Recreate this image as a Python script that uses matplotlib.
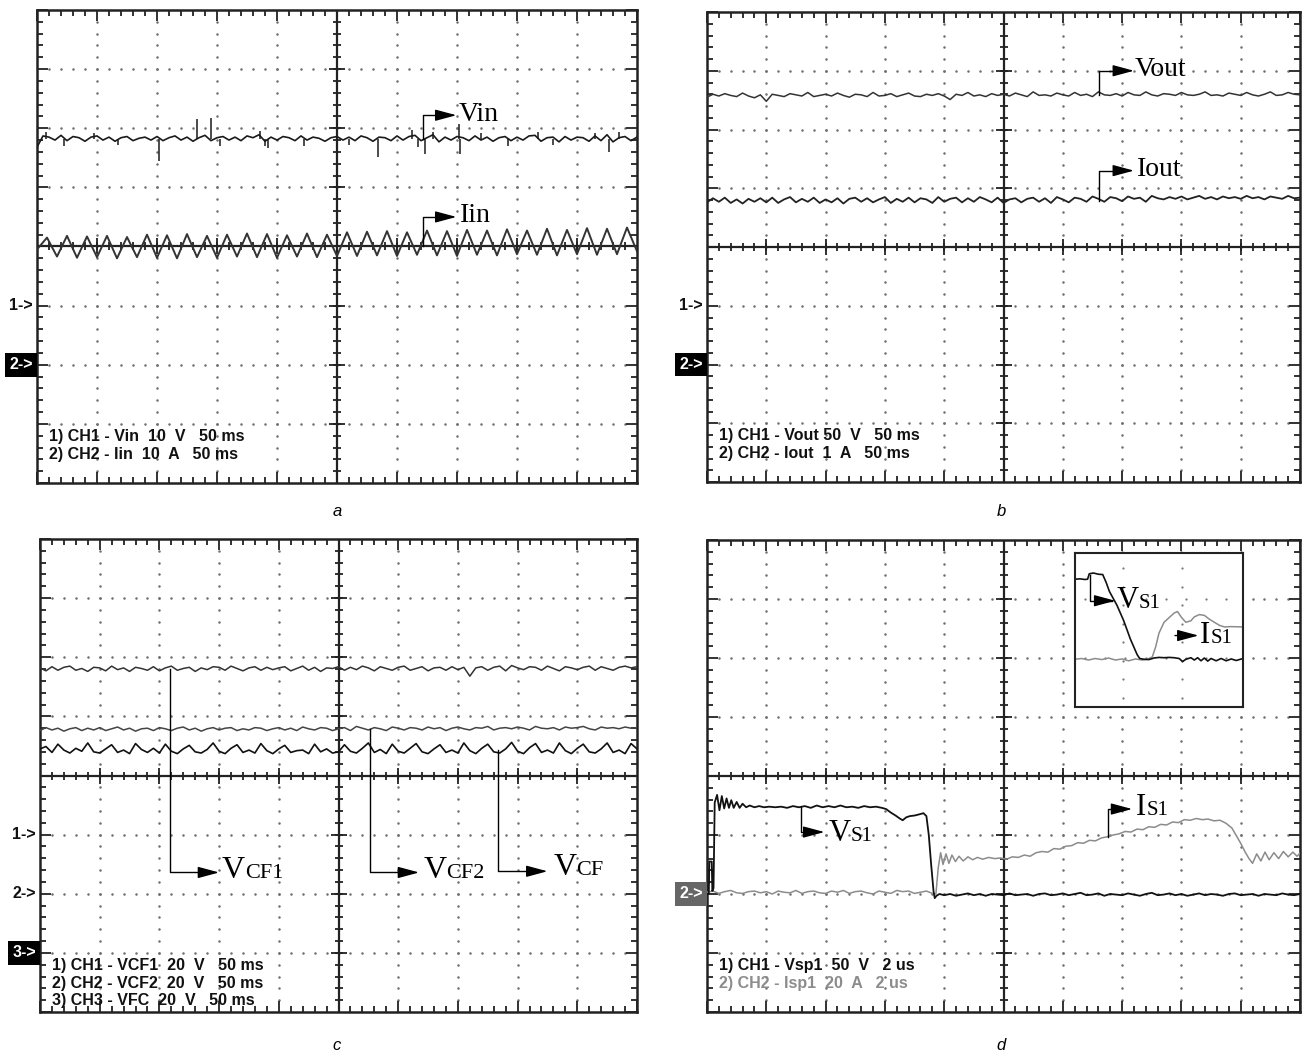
import numpy as np
import matplotlib.pyplot as plt
from matplotlib.offsetbox import TextArea, HPacker, AnnotationBbox

plt.rcParams['font.family'] = ['Liberation Sans', 'DejaVu Sans']

# ---- panel a : input voltage / current (divisions) ----
vin_level = 5.82
vin_ripple = [-14, 5, 3, -2, 6, -3, 4, 2, -4, 3,
              5, -2, 3, -4, 2, 4, -3, 1, 3, -2,
              4, -3, 2, 5, -2, 3, -4, 2, 6, -3,
              2, 4, -2, 3, -3, 5, 2, 7, -4, 3,
              -2, 4, 2, -3, 5, -2, 3, 1, -4, 2,
              4, -2, 3, -3, 5, 2, -4, 3, 2, -3,
              5, -2, 4, 6, -3, 2, 7, -5, 3, -2,
              4, 2, -3, 5, -2, 3, -4, 2, 4, -3,
              3, -2, 5, 6, -4, 2, 3, -5, 4, -2,
              3, 2, -4, 5, -3, 7, -5, 2, 4, -3, 3]
vin_spike_x = [0.15, 0.45, 0.95, 1.35, 2.03, 2.67, 2.90, 3.05, 3.72, 3.80, 3.85, 4.45, 5.20,
               5.68, 6.25, 6.35, 6.47, 6.60, 7.03, 7.05, 7.40, 7.85, 8.35, 8.60, 9.30, 9.53, 9.70]
vin_spike_dy = [0.12, -0.12, 0.10, -0.10, -0.37, 0.33, 0.35, -0.12, 0.14, -0.12, -0.15, -0.12, -0.10,
                -0.30, 0.15, -0.14, -0.25, 0.12, 0.25, -0.25, 0.10, -0.12, 0.12, -0.10, 0.10, -0.22, 0.12]

iin_level = 4.0
iin_swing = [-5, 15, -17, 18, -19, 17, -18, 18, -20, 16, -18, 20, -19, 19, -20, 21, -18, 18, -19, 20,
             -17, 22, -18, 21, -19, 19, -17, 22, -18, 20, -16, 24, -16, 25, -15, 26, -16, 24, -14, 27,
             -15, 26, -16, 28, -14, 27, -15, 29, -13, 27, -14, 30, -15, 28, -13, 31, -14, 30, -13, 32, -8]

# ---- panel b : output voltage / current ----
vout_level = 6.58
vout_ripple = [-3, 2, -1, 3, 0, -2, 4, -1, -4, 1,
               -10, 2, 0, -2, 3, 1, -1, 5, -2, 0,
               2, -1, 4, 0, -3, 2, 1, -2, 5, -1,
               0, 3, -2, 1, 4, -1, -2, 2, 0, 3,
               -1, -7, 2, 0, 5, -1, 1, -2, 3, 0,
               2, -1, 4, 1, -2, 6, 0, 1, -1, 4,
               1, -1, 5, 0, 2, -2, 6, 1, 0, 3,
               -1, 5, 1, 0, 6, 1, -1, 3, 2, 0,
               5, 1, 0, 2, 6, 0, 1, -1, 4, 2,
               0, 5, 1, -1, 2, 6, 0, 1, 5, 2, 1]
iout_level = 4.79
iout_ripple = [-3, 4, -2, 5, -4, 2, -5, 3, -2, 4,
               -3, 5, -4, 2, 6, -3, 3, -2, 5, -4,
               2, -3, 4, -5, 3, 5, -2, 4, -3, 2,
               6, -4, 3, -2, 5, -3, 4, 2, -4, 6,
               -2, 3, 5, -3, 4, -2, 6, 2, -3, 5,
               -4, 2, 4, -3, 3, 5, -2, 4, -4, 6,
               2, -3, 5, 3, -2, 7, 3, -2, 6, 4,
               -1, 7, 3, 5, -2, 8, 4, 2, 6, 3,
               7, 2, 5, 8, 3, 6, 2, 7, 4, 6,
               3, 8, 4, 6, 2, 7, 5, 3, 8, 4, 5]

# ---- panel c : flying capacitor voltages ----
vcf1_level = 5.80
vcf1_ripple = [2, -3, 4, -2, 3, 5, -2, 1, -4, 3,
               2, -3, 5, -1, 2, -4, 3, 1, -2, 4,
               -3, 2, 5, -2, 1, 3, -4, 2, -1, 4,
               3, -2, 5, 1, -3, 2, 4, -2, 3, -1,
               2, 4, -3, 1, 5, -2, 3, -4, 2, 1,
               4, -2, 3, -1, 5, 2, -3, 4, 1, -2,
               3, 5, -2, 1, 4, -3, 2, 3, -2, 4,
               -1, 3, -12, 2, 4, -2, 3, 5, -3, 6,
               2, -1, 4, 3, -2, 5, 1, -3, 4, 2,
               -1, 3, 5, -2, 4, 1, -2, 3, 5, 2, 4]
vcf2_level = 4.78
vcf2_ripple = [-2, 3, -1, 2, -3, 1, 3, -2, 2, -1,
               3, -2, 1, 4, -1, 2, -3, 1, 2, -2,
               3, 1, -2, 2, 4, -1, 2, -3, 1, 3,
               -1, 2, 3, -2, 1, -1, 3, 2, -2, 1,
               3, -1, 2, -2, 4, 1, -1, 3, 2, -2,
               1, 3, -2, 5, 2, -1, 3, 1, -2, 4,
               2, -1, 3, 2, -1, 4, 1, 3, -2, 2,
               4, 1, -1, 3, 2, 5, -1, 2, 3, 1,
               4, 2, -1, 5, 2, 1, 3, -1, 4, 2,
               3, 5, 1, -1, 4, 2, 3, 1, 4, 2, 3]
vcf_level = 4.43
vcf_ripple = [2, 6, -4, 10, 0, -5, 3, -2, 12, -3,
              -5, 2, 9, -4, 0, -6, 11, 1, -4, 3,
              -5, 10, -2, -6, 2, 8, -3, -5, 1, 12,
              -2, -6, 3, 9, -4, 0, -5, 11, -1, -6,
              2, 8, -4, -1, 0, -6, 10, -3, 2, -5,
              -3, 9, -2, -5, 3, 12, -4, 1, -6, 10,
              -2, -5, 3, 11, -3, -6, 2, 9, -4, 0,
              -5, 12, -1, -6, 3, 10, -3, -5, 2, 13,
              -2, -6, 4, 11, -4, 0, -5, 12, -1, -6,
              3, 10, -3, -5, 2, 12, -4, 0, -6, 11, 2]

# ---- panel d : switch S1 voltage / current (2 us/div) ----
vs1_pts = [(0.00, 2.00), (0.03, 2.00), (0.04, 2.55), (0.08, 2.55), (0.09, 2.05), (0.11, 2.10),
           (0.13, 3.55), (0.17, 3.68), (0.21, 3.42), (0.25, 3.66), (0.29, 3.45), (0.33, 3.62),
           (0.37, 3.46), (0.41, 3.59), (0.45, 3.46), (0.50, 3.56), (0.55, 3.46), (0.60, 3.53),
           (0.66, 3.47), (0.72, 3.50), (0.80, 3.47), (0.88, 3.49), (0.96, 3.47), (1.05, 3.48),
           (1.15, 3.47), (1.25, 3.48), (1.35, 3.46), (1.45, 3.49), (1.55, 3.47), (1.65, 3.49),
           (1.75, 3.46), (1.85, 3.50), (1.95, 3.47), (2.05, 3.49), (2.15, 3.47), (2.25, 3.50),
           (2.35, 3.47), (2.45, 3.48), (2.55, 3.46), (2.65, 3.49), (2.75, 3.47), (2.85, 3.48),
           (2.95, 3.46), (3.02, 3.44), (3.10, 3.38), (3.18, 3.33), (3.25, 3.28), (3.30, 3.25),
           (3.36, 3.30), (3.42, 3.32), (3.50, 3.33), (3.58, 3.35), (3.65, 3.37), (3.70, 3.32),
           (3.74, 3.00), (3.78, 2.50), (3.82, 2.05), (3.84, 1.93), (3.87, 1.97), (3.92, 2.00)]
vs1_tail_level = 1.99
vs1_tail = [-1, 1, -2, 0, 2, -1, 1, -2, 1, 0,
            -1, 2, -1, 0, 1, -2, 1, 2, -1, 0,
            2, -1, 1, 3, -1, 0, 2, -2, 1, 0,
            -1, 2, 0, -2, 1, 3, -1, 0, 2, -1,
            1, -2, 0, 2, -1, 1, 0, -2, 1, 2,
            -1, 0, 1, -2, 1, 0, -1, 2, 0, -1, 1]
is1_head_level = 2.03
is1_head = [0, 2, -2, 1, 3, -1, -2, 1, 2, -1,
            1, -3, 2, 0, -1, 3, -2, 1, 2, -1,
            -2, 2, 0, 3, -2, 1, 2, -1, -3, 2,
            0, -2, 3, 1, 2, -2, 0, 2, -2]
is1_pts = [(3.86, 2.00), (3.90, 2.45), (3.94, 2.70), (3.98, 2.50), (4.03, 2.68), (4.08, 2.52),
           (4.13, 2.66), (4.19, 2.55), (4.25, 2.64), (4.32, 2.56), (4.40, 2.63), (4.48, 2.58),
           (4.56, 2.62), (4.65, 2.59), (4.75, 2.62), (4.85, 2.60), (4.95, 2.61), (5.05, 2.59),
           (5.15, 2.63), (5.25, 2.62), (5.35, 2.66), (5.45, 2.64), (5.55, 2.70), (5.65, 2.72),
           (5.75, 2.71), (5.85, 2.77), (5.95, 2.76), (6.05, 2.81), (6.15, 2.82), (6.25, 2.87),
           (6.35, 2.86), (6.45, 2.91), (6.55, 2.90), (6.65, 2.95), (6.75, 2.97), (6.85, 3.00),
           (6.95, 3.02), (7.05, 3.06), (7.15, 3.05), (7.25, 3.10), (7.35, 3.09), (7.45, 3.14),
           (7.55, 3.13), (7.65, 3.18), (7.75, 3.17), (7.85, 3.22), (7.95, 3.21), (8.05, 3.26),
           (8.15, 3.25), (8.25, 3.28), (8.35, 3.26), (8.45, 3.27), (8.55, 3.24), (8.65, 3.25),
           (8.75, 3.20), (8.85, 3.12), (8.92, 3.00), (9.00, 2.86), (9.07, 2.72), (9.14, 2.60),
           (9.20, 2.52), (9.27, 2.68), (9.34, 2.56), (9.41, 2.71), (9.48, 2.58), (9.56, 2.70),
           (9.64, 2.60), (9.72, 2.72), (9.80, 2.63), (9.88, 2.71), (9.95, 2.64), (10.0, 2.69)]

# zoomed turn-off detail (inset, own 0..10 scale)
inset_vs = [(0.0, 8.3), (0.3, 8.32), (0.6, 8.28), (0.75, 8.3), (0.85, 8.65), (1.1, 8.7), (1.4, 8.62),
            (1.65, 8.6), (1.85, 8.1), (2.05, 7.5), (2.3, 7.0), (2.5, 6.6), (2.7, 6.1), (2.9, 5.6),
            (3.1, 5.0), (3.3, 4.4), (3.5, 3.9), (3.7, 3.4), (3.85, 3.15), (4.1, 3.1), (4.4, 3.08),
            (4.7, 3.18), (5.0, 3.22), (5.3, 3.2), (5.6, 3.22), (5.9, 3.2), (6.2, 3.15), (6.4, 2.95),
            (6.6, 3.1), (6.9, 3.2), (7.1, 3.05), (7.3, 3.2), (7.5, 3.0), (7.7, 3.18), (7.9, 2.98),
            (8.1, 3.15), (8.4, 3.0), (8.7, 3.15), (9.0, 3.0), (9.3, 3.12), (9.6, 3.02), (10.0, 3.15)]
inset_is = [(0.0, 3.1), (0.4, 3.15), (0.8, 3.05), (1.2, 3.15), (1.6, 3.08), (2.0, 3.18), (2.4, 3.05),
            (2.8, 3.12), (3.2, 3.0), (3.6, 3.12), (4.0, 3.05), (4.3, 3.1), (4.6, 3.25), (4.8, 3.9),
            (5.0, 4.8), (5.3, 5.5), (5.6, 5.8), (5.9, 6.1), (6.1, 6.2), (6.35, 5.8), (6.6, 5.5),
            (6.9, 5.6), (7.1, 5.85), (7.4, 6.0), (7.7, 5.95), (8.0, 5.7), (8.3, 5.5), (8.6, 5.3),
            (8.9, 5.2), (9.3, 5.22), (10.0, 5.2)]

W, H = 1306, 1055
fig = plt.figure(figsize=(W / 100, H / 100), dpi=100)
GRID = '#222222'


def px_axes(x0, y0, x1, y1):
    return fig.add_axes([x0 / W, 1 - y1 / H, (x1 - x0) / W, (y1 - y0) / H])


def scope_grid(ax):
    ax.set_xlim(0, 10)
    ax.set_ylim(0, 8)
    ax.set_xticks(range(11))
    ax.set_yticks(range(9))
    ax.set_xticks(np.arange(0, 10.01, 0.2), minor=True)
    ax.set_yticks(np.arange(0, 8.01, 0.2), minor=True)
    ax.tick_params(which='both', direction='in', top=True, right=True,
                   labelbottom=False, labelleft=False, color=GRID, width=1.3)
    ax.tick_params(which='major', length=8)
    ax.tick_params(which='minor', length=4)
    for s in ax.spines.values():
        s.set_linewidth(1.8)
        s.set_color(GRID)
    # dotted graticule
    for k in range(1, 10):
        if k != 5:
            yy = np.arange(0.2, 7.9, 0.2)
            ax.plot(np.full(len(yy), k), yy, 'o', ms=1.8, mew=0, color='#6e6e6e', zorder=1)
    for k in range(1, 8):
        if k != 4:
            xx = np.arange(0.2, 9.9, 0.2)
            ax.plot(xx, np.full(len(xx), k), 'o', ms=1.8, mew=0, color='#6e6e6e', zorder=1)
    # centre cross with its own ticks
    ax.axhline(4, color=GRID, lw=1.6, zorder=2)
    ax.axvline(5, color=GRID, lw=1.6, zorder=2)
    xm = np.arange(0.2, 9.9, 0.2)
    ym = np.arange(0.2, 7.9, 0.2)
    ax.plot(xm, np.full(len(xm), 4), '|', ms=6, mew=1.3, color=GRID, zorder=2)
    ax.plot(range(1, 10), np.full(9, 4), '|', ms=11, mew=1.3, color=GRID, zorder=2)
    ax.plot(np.full(len(ym), 5), ym, '_', ms=6, mew=1.3, color=GRID, zorder=2)
    ax.plot(np.full(7, 5), range(1, 8), '_', ms=11, mew=1.3, color=GRID, zorder=2)


def chan_mark(ax, y, label, fc=None):
    kw = dict(xy=(0, y), xycoords=('axes fraction', 'data'), xytext=(-3, 0),
              textcoords='offset points', ha='right', va='center', fontsize=11.5,
              fontweight='bold', annotation_clip=False, color='#111111')
    if fc:
        kw.update(color='white', bbox=dict(boxstyle='square,pad=0.28', fc=fc, ec='none'))
    ax.annotate(label, **kw)


def pointer(ax, x0, y0, y1, x1, color='black'):
    ax.plot([x0, x0, x1 - 0.2], [y0, y1, y1], color=color, lw=1.0, zorder=4)
    ax.annotate('', xy=(x1, y1), xytext=(x1 - 0.3, y1),
                arrowprops=dict(arrowstyle='-|>,head_length=1.3,head_width=0.35',
                                color=color, lw=1.0, shrinkA=0, shrinkB=0,
                                mutation_scale=10), zorder=4)


def tag(ax, x, y, main, sub='', size=20, subsize=14):
    parts = [TextArea(main, textprops=dict(family='Liberation Serif', size=size))]
    if sub:
        parts.append(TextArea(sub, textprops=dict(family='Liberation Serif', size=subsize)))
    box = HPacker(children=parts, align='baseline', pad=0, sep=0)
    ax.add_artist(AnnotationBbox(box, (x, y), xycoords='data', box_alignment=(0, 0.5),
                                 frameon=False, pad=0, zorder=4))


def info(ax, lines, colors=None):
    for i, s in enumerate(lines):
        c = colors[i] if colors else '#111111'
        ax.text(0.2, 0.79 - 0.3 * i, s, fontsize=11.5, fontweight='bold', va='center',
                color=c, zorder=4)


x101 = np.linspace(0, 10, 101)

# ---------------- a ----------------
ax = px_axes(37, 10, 637, 483)
scope_grid(ax)
ax.plot(x101, vin_level + np.array(vin_ripple) / 100, color='#1a1a1a', lw=1.2, zorder=3)
ax.vlines(vin_spike_x, vin_level, vin_level + np.array(vin_spike_dy), color='#1a1a1a', lw=1.1, zorder=3)
ax.plot(np.linspace(0, 10, 61), iin_level + np.array(iin_swing) / 100, color='#333333', lw=1.4, zorder=3)
pointer(ax, 6.43, vin_level, 6.22, 6.99)
tag(ax, 7.02, 6.24, 'Vin')
pointer(ax, 6.43, iin_level, 4.50, 6.99)
tag(ax, 7.05, 4.52, 'Iin')
chan_mark(ax, 3, '1->')
chan_mark(ax, 2, '2->', fc='black')
info(ax, ['1) CH1 - Vin  10  V   50 ms', '2) CH2 - Iin  10  A   50 ms'])
fig.text(337 / W, 1 - 511 / H, 'a', style='italic', fontsize=12, ha='center', va='center')

# ---------------- b ----------------
ax = px_axes(707, 12, 1300, 482)
scope_grid(ax)
ax.plot(x101, vout_level + np.array(vout_ripple) / 100, color='#333333', lw=1.1, zorder=3)
ax.plot(x101, iout_level + np.array(iout_ripple) / 100, color='#222222', lw=1.3, zorder=3)
pointer(ax, 6.61, vout_level, 7.0, 7.2)
tag(ax, 7.22, 7.02, 'Vout')
pointer(ax, 6.61, iout_level, 5.3, 7.2)
tag(ax, 7.25, 5.32, 'Iout')
chan_mark(ax, 3, '1->')
chan_mark(ax, 2, '2->', fc='black')
info(ax, ['1) CH1 - Vout 50  V   50 ms', '2) CH2 - Iout  1  A   50 ms'])
fig.text(1001 / W, 1 - 511 / H, 'b', style='italic', fontsize=12, ha='center', va='center')

# ---------------- c ----------------
ax = px_axes(40, 539, 637, 1012)
scope_grid(ax)
ax.plot(x101, vcf1_level + np.array(vcf1_ripple) / 100, color='#333333', lw=1.1, zorder=3)
ax.plot(x101, vcf2_level + np.array(vcf2_ripple) / 100, color='#444444', lw=1.1, zorder=3)
ax.plot(x101, vcf_level + np.array(vcf_ripple) / 100, color='#111111', lw=1.2, zorder=3)
pointer(ax, 2.17, vcf1_level, 2.36, 3.0)
tag(ax, 3.05, 2.40, 'V', 'CF1', size=23, subsize=16)
pointer(ax, 5.53, vcf2_level, 2.36, 6.35)
tag(ax, 6.42, 2.40, 'V', 'CF2', size=23, subsize=16)
pointer(ax, 7.68, vcf_level, 2.38, 8.5)
tag(ax, 8.6, 2.44, 'V', 'CF', size=23, subsize=16)
chan_mark(ax, 3, '1->')
chan_mark(ax, 2, '2->')
chan_mark(ax, 1, '3->', fc='black')
info(ax, ['1) CH1 - VCF1  20  V   50 ms', '2) CH2 - VCF2  20  V   50 ms', '3) CH3 - VFC  20  V   50 ms'])
fig.text(337 / W, 1 - 1046 / H, 'c', style='italic', fontsize=12, ha='center', va='center')

# ---------------- d ----------------
ax = px_axes(707, 540, 1300, 1012)
scope_grid(ax)
t_head = np.arange(len(is1_head)) * 0.1
ax.plot(np.concatenate([t_head, [p[0] for p in is1_pts]]),
        np.concatenate([is1_head_level + np.array(is1_head) / 100, [p[1] for p in is1_pts]]),
        color='#8c8c8c', lw=1.1, zorder=3)
t_tail = 4.0 + np.arange(len(vs1_tail)) * 0.1
ax.plot(np.concatenate([[p[0] for p in vs1_pts], t_tail]),
        np.concatenate([[p[1] for p in vs1_pts], vs1_tail_level + np.array(vs1_tail) / 100]),
        color='#111111', lw=1.3, zorder=3)
pointer(ax, 1.58, 3.48, 3.05, 1.98)
tag(ax, 2.05, 3.02, 'V', 'S1', size=22, subsize=15)
pointer(ax, 6.77, 2.97, 3.44, 7.17)
tag(ax, 7.24, 3.46, 'I', 'S1', size=22, subsize=15)
chan_mark(ax, 2, '2->', fc='#666666')
info(ax, ['1) CH1 - Vsp1  50  V   2 us', '2) CH2 - Isp1  20  A   2 us'], colors=['#111111', '#8c8c8c'])
fig.text(1001 / W, 1 - 1046 / H, 'd', style='italic', fontsize=12, ha='center', va='center')

# inset with the turn-off edge
axi = px_axes(1075, 553, 1243, 707)
axi.set_zorder(6)
axi.set_facecolor('white')
axi.set_xlim(0, 10)
axi.set_ylim(0, 10)
axi.set_xticks([])
axi.set_yticks([])
for s in axi.spines.values():
    s.set_linewidth(1.5)
    s.set_color(GRID)
for gx in (2.83, 6.36):
    yy = np.arange(0.6, 10, 1.2)
    axi.plot(np.full(len(yy), gx), yy, 'o', ms=1.6, mew=0, color='#777777')
for gy in (7.0, 3.18):
    xx = np.arange(0.6, 10, 1.2)
    axi.plot(xx, np.full(len(xx), gy), 'o', ms=1.6, mew=0, color='#777777')
axi.plot([p[0] for p in inset_is], [p[1] for p in inset_is], color='#8c8c8c', lw=1.1)
axi.plot([p[0] for p in inset_vs], [p[1] for p in inset_vs], color='#111111', lw=1.2)
pointer(axi, 0.92, 8.6, 6.9, 2.4)
tag(axi, 2.5, 6.9, 'V', 'S1', size=22, subsize=15)
axi.annotate('', xy=(7.35, 4.64), xytext=(5.95, 4.64),
             arrowprops=dict(arrowstyle='-|>,head_length=1.3,head_width=0.35', color='black',
                             lw=1.0, shrinkA=0, shrinkB=0, mutation_scale=10))
tag(axi, 7.45, 4.64, 'I', 'S1', size=22, subsize=15)

fig.savefig('out.png', dpi=100, facecolor='white')
